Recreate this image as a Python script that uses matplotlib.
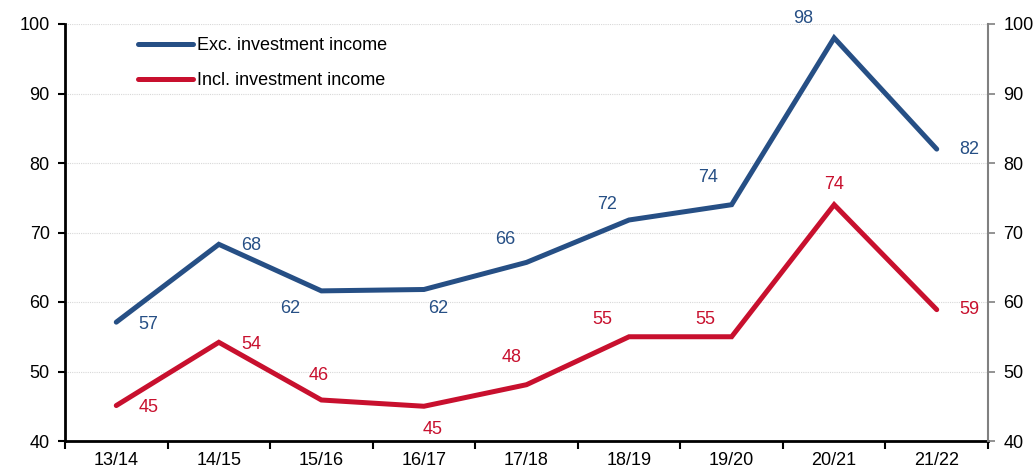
import numpy as np
import matplotlib.pyplot as plt

plt.rcParams['font.family'] = ['Liberation Sans', 'DejaVu Sans']

years = ['13/14', '14/15', '15/16', '16/17', '17/18', '18/19', '19/20', '20/21', '21/22']
exc_income = [57.1, 68.3, 61.6, 61.8, 65.7, 71.8, 74.0, 98.0, 82.0]
incl_income = [45.1, 54.2, 45.9, 45.0, 48.1, 55.0, 55.0, 74.0, 58.9]

# label offsets in pixels (dx, dy), positive dy = up
exc_off = [(32, -2), (32, -1), (-31, -18), (14, -19), (-21, 23), (-22, 15), (-24, 27), (-31, 19), (33, 0)]
incl_off = [(32, -2), (32, -2), (-3, 24), (9, -23), (-15, 27), (-27, 17), (-26, 17), (0, 20), (33, 0)]

blue = '#264f85'
red = '#c8102e'
fs = 13

fig = plt.figure(figsize=(10.35, 4.72), dpi=100)
ax = fig.add_axes([65/1035, 31/472, 923/1035, 417/472])
x = np.arange(len(years))

ax.plot(x, exc_income, color=blue, lw=3.6, solid_capstyle='round', solid_joinstyle='miter',
        label='Exc. investment income', zorder=3)
ax.plot(x, incl_income, color=red, lw=3.6, solid_capstyle='round', solid_joinstyle='miter',
        label='Incl. investment income', zorder=3)

for xi, v, o in zip(x, exc_income, exc_off):
    ax.annotate(str(int(round(v))), (xi, v), xytext=o, textcoords='offset pixels',
                ha='center', va='center', color=blue, fontsize=fs)
for xi, v, o in zip(x, incl_income, incl_off):
    ax.annotate(str(int(round(v))), (xi, v), xytext=o, textcoords='offset pixels',
                ha='center', va='center', color=red, fontsize=fs)

ax.set_xlim(-0.5, len(years) - 0.5)
ax.set_ylim(40, 100)
ax.set_yticks(range(40, 101, 10))
ax.yaxis.grid(True, color='#d8d8d8', linestyle=(0, (1, 1)), linewidth=0.8)
ax.set_axisbelow(True)

ax.set_xticks(np.arange(-0.5, len(years), 1.0))
ax.set_xticklabels([])
ax.set_xticks(x, minor=True)
ax.set_xticklabels(years, minor=True)
ax.tick_params(axis='x', which='major', length=6, width=1.5, color='black')
ax.tick_params(axis='x', which='minor', length=0, labelsize=fs, pad=8)
ax.tick_params(axis='y', length=5, width=1.5, labelsize=fs, pad=6)

for s in ['top', 'right']:
    ax.spines[s].set_visible(False)
ax.spines['left'].set_linewidth(2)
ax.spines['bottom'].set_linewidth(2)

ax2 = ax.twinx()
ax2.set_ylim(40, 100)
ax2.set_yticks(range(40, 101, 10))
ax2.tick_params(axis='y', length=5, width=1.2, color='#808080', labelsize=fs, pad=6)
for s in ['top', 'left', 'bottom']:
    ax2.spines[s].set_visible(False)
ax2.spines['right'].set_color('#808080')
ax2.spines['right'].set_linewidth(1.5)

ax.legend(loc='upper left', bbox_to_anchor=(0.079, 0.968), frameon=False, fontsize=fs,
          handlelength=3.05, handletextpad=0.22, labelspacing=1.0, borderpad=0, borderaxespad=0)

fig.savefig('out.png', dpi=100)
